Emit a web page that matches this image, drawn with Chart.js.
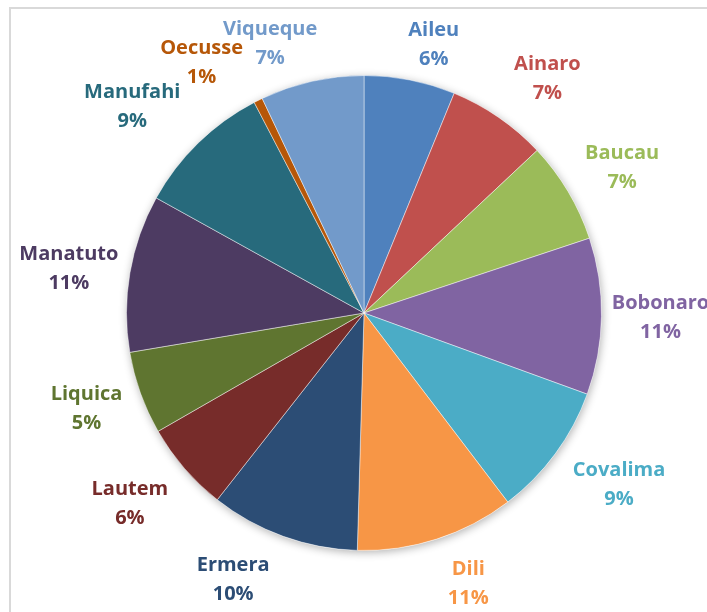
<!DOCTYPE html>
<html>
<head>
<meta charset="utf-8">
<title>Districts pie</title>
<script src="https://cdn.jsdelivr.net/npm/chart.js@4"></script>
<style>
  html, body { margin: 0; padding: 0; background: #fff; }
  #wrap { width: 707px; height: 612px; }
</style>
</head>
<body>
<div id="wrap"><canvas id="pieChart" width="707" height="612"></canvas></div>
<script>
// data (slice sizes in percent, clockwise from 12 o'clock)
const districts = ['Aileu', 'Ainaro', 'Baucau', 'Bobonaro', 'Covalima', 'Dili', 'Ermera',
                   'Lautem', 'Liquica', 'Manatuto', 'Manufahi', 'Oecusse', 'Viqueque'];
const shares = [6.2, 6.8, 6.9, 10.65, 9.1, 10.8, 10.15, 6.1, 5.65, 10.7, 9.3, 0.6, 7.05];
const shareLabels = ['6%', '7%', '7%', '11%', '9%', '11%', '10%', '6%', '5%', '11%', '9%', '1%', '7%'];

const sliceColors = ['#4F81BD', '#C0504D', '#9BBB59', '#8064A2', '#4BACC6', '#F79646', '#2C4D75',
                     '#772C2A', '#5F7530', '#4D3B62', '#276A7C', '#B65708', '#729ACA'];

// label placement nudges: extra angle (deg, clockwise) and distance past the rim (px)
const labelShift = [3.4, 3.5, 1.3, 0, -2.4, -3.3, 6.3, 1.8, 0.7, -1.1, -4.0, -6.5, -6.5];
const labelGap = [40, 60, 59, 59, 70, 52, 59, 64, 56, 61, 73, 61, 48];

const framePlugin = {
  id: 'frame',
  beforeDraw(chart) {
    const ctx = chart.ctx;
    ctx.save();
    ctx.strokeStyle = '#d9d9d9';
    ctx.lineWidth = 2;
    ctx.strokeRect(10, 8, 800, 800);
    ctx.restore();
  }
};

// soft shadow round the pie
const shadowPlugin = {
  id: 'pieShadow',
  beforeDatasetsDraw(chart) {
    const arc = chart.getDatasetMeta(0).data[0];
    if (!arc) return;
    const p = arc.getProps(['x', 'y', 'outerRadius'], true);
    const ctx = chart.ctx;
    ctx.save();
    ctx.shadowColor = 'rgba(0,0,0,0.3)';
    ctx.shadowBlur = 8;
    ctx.shadowOffsetX = 1;
    ctx.shadowOffsetY = 2;
    ctx.fillStyle = '#ffffff';
    ctx.beginPath();
    ctx.arc(p.x, p.y, p.outerRadius, 0, Math.PI * 2);
    ctx.fill();
    ctx.restore();
  }
};

const outsideLabels = {
  id: 'outsideLabels',
  afterDatasetsDraw(chart) {
    const ctx = chart.ctx;
    const meta = chart.getDatasetMeta(0);
    ctx.save();
    ctx.font = 'bold 20px "Open Sans", sans-serif';
    ctx.textAlign = 'center';
    ctx.textBaseline = 'middle';
    meta.data.forEach((arc, i) => {
      const p = arc.getProps(['x', 'y', 'startAngle', 'endAngle', 'outerRadius'], true);
      const mid = (p.startAngle + p.endAngle) / 2 + labelShift[i] * Math.PI / 180;
      const dist = p.outerRadius + labelGap[i];
      const lx = p.x + Math.cos(mid) * dist;
      const ly = p.y + Math.sin(mid) * dist;
      ctx.fillStyle = sliceColors[i];
      ctx.fillText(districts[i], lx, ly - 14);
      ctx.fillText(shareLabels[i], lx, ly + 15);
    });
    ctx.restore();
  }
};

const ctx = document.getElementById('pieChart').getContext('2d');
const pieChart = new Chart(ctx, {
  type: 'pie',
  data: {
    labels: districts,
    datasets: [
      {
        data: shares,
        backgroundColor: sliceColors,
        borderColor: 'rgba(255,255,255,0.45)',
        borderWidth: 1
      }
    ]
  },
  options: {
    responsive: false,
    animation: false,
    layout: { padding: { top: 75, bottom: 61, left: 126, right: 105 } },
    plugins: {
      legend: { display: false },
      tooltip: { enabled: false }
    }
  },
  plugins: [framePlugin, shadowPlugin, outsideLabels]
});
</script>
</body>
</html>
